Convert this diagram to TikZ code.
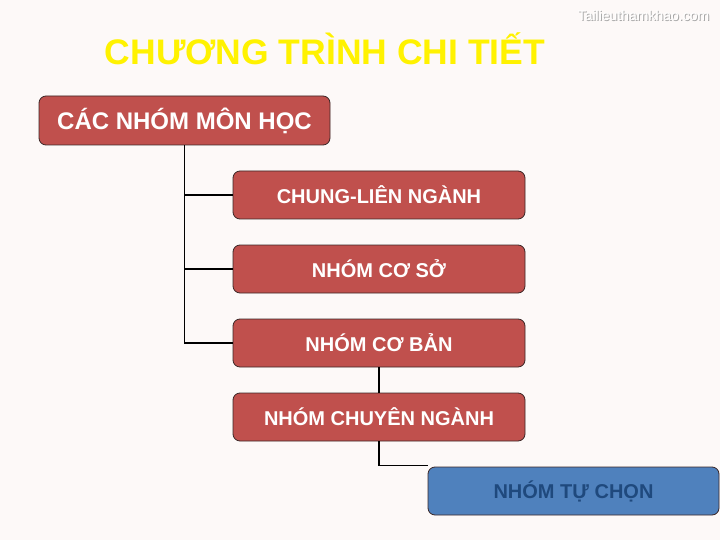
\documentclass[tikz,border=0pt]{standalone}
\usepackage{fontspec}
\setmainfont{Liberation Sans}
\usepackage{tikz}
\usetikzlibrary{positioning, calc}
\definecolor{bg}{RGB}{253,249,248}
\definecolor{redbox}{RGB}{192,80,77}
\definecolor{bluebox}{RGB}{79,129,189}
\definecolor{bluetext}{RGB}{31,73,125}
\definecolor{edge}{RGB}{60,40,40}

\begin{document}
\begin{tikzpicture}[x=1pt, y=-1pt,
        group/.style={draw=edge, line width=0.8pt, fill=redbox, rounded corners=7pt,
            minimum width=292pt, minimum height=48pt, inner sep=0pt,
            text=white, font=\bfseries\fontsize{20}{24}\selectfont},
        link/.style={line width=1.6pt, black}]
        \fill[bg] (0,0) rectangle (720,540);
        \useasboundingbox (0,0) rectangle (720,540);

        \node (title) at (325, 49) {\color{yellow}\bfseries\fontsize{35.5}{40}\selectfont CHƯƠNG TRÌNH CHI TIẾT}; % title
        \node[text=gray!70] at (644.5, 16) {\fontsize{14}{16}\selectfont Tailieuthamkhao.com}; % shadow
        \node[text=white] (mark) at (643.5, 15) {\fontsize{14}{16}\selectfont Tailieuthamkhao.com}; % watermark

        \node[group, minimum width=291pt, minimum height=49pt, font=\bfseries\fontsize{24}{28}\selectfont] (groups) at (184.5, 120.5) {CÁC NHÓM MÔN HỌC}; % root
        \node[group] (general) at (379, 195) {CHUNG-LIÊN NGÀNH}; % general
        \node[group] (base) at (379, 269) {NHÓM CƠ SỞ}; % base
        \node[group] (core) at (379, 343) {NHÓM CƠ BẢN}; % core
        \node[group] (major) at (379, 417) {NHÓM CHUYÊN NGÀNH}; % major
        \node[group, fill=bluebox, minimum width=291pt, text=bluetext] (elective) at (573.5, 491) {NHÓM TỰ CHỌN}; % elective

        \draw[link]
            (groups.south) |- (general.west)
            (groups.south) |- (base.west)
            (groups.south) |- (core.west)
            (core.south) -- (major.north)
            (major.south) |- ($(elective.north west)+(0,-1)$)
            ;
    \end{tikzpicture}
\end{document}
